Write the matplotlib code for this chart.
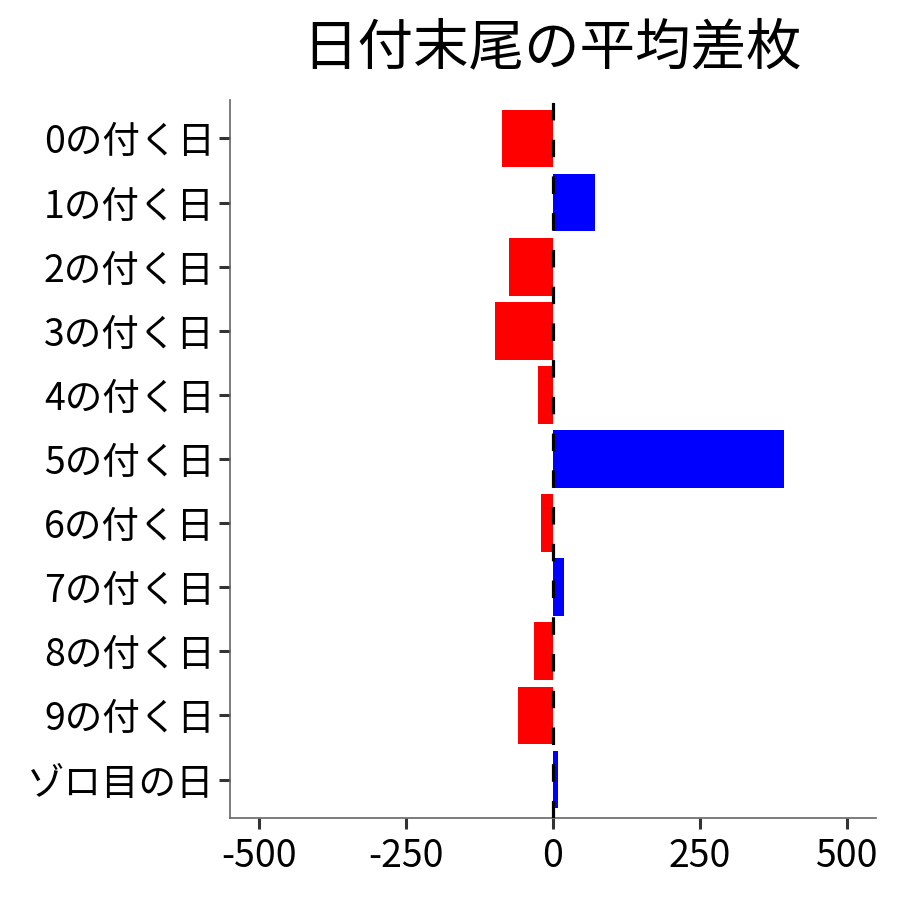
import matplotlib.pyplot as plt

plt.rcParams['font.family'] = ['Noto Sans CJK JP', 'DejaVu Sans']

categories = ["0の付く日", "1の付く日", "2の付く日", "3の付く日", "4の付く日",
              "5の付く日", "6の付く日", "7の付く日", "8の付く日", "9の付く日", "ゾロ目の日"]
values = [-87, 72, -75, -99, -25, 394, -21, 18, -33, -60, 9]
x_ticks = [-500, -250, 0, 250, 500]

colors = ['#0000FF' if v > 0 else '#FF0000' for v in values]

fig = plt.figure(figsize=(9, 9), dpi=100)
ax = fig.add_axes([0.2556, 0.0911, 0.7178, 0.7978])

pos = list(range(len(categories)))[::-1]
ax.barh(pos, values, height=0.9, color=colors, zorder=2)
ax.axvline(0, color='black', linewidth=2.3, linestyle=(0, (5.5, 6)), zorder=3)

ax.set_xlim(-550, 550)
ax.set_ylim(-0.6, len(categories) - 0.4)
ax.set_yticks(pos)
ax.set_yticklabels(categories)
ax.set_xticks(x_ticks)
ax.set_xticklabels([str(t) for t in x_ticks])

for s in ['top', 'right']:
    ax.spines[s].set_visible(False)
for s in ['left', 'bottom']:
    ax.spines[s].set_color('#666666')
    ax.spines[s].set_linewidth(1.2)

ax.tick_params(axis='both', length=8, width=2.2, color='#333333',
               labelsize=27, labelcolor='black', pad=3)
ax.tick_params(axis='x', pad=6)

fig.text(0.613, 0.946, "日付末尾の平均差枚", ha='center', va='center', fontsize=40)

fig.savefig('out.png', dpi=100)
